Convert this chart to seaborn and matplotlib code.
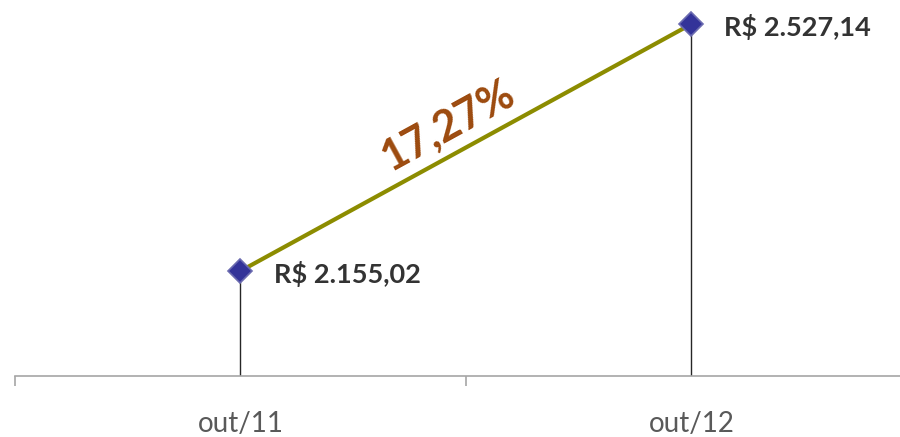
import numpy as np
import pandas as pd
import matplotlib
matplotlib.use("Agg")
import matplotlib.pyplot as plt
import seaborn as sns

months = ["out/11", "out/12"]
values = [2155.02, 2527.14]
value_labels = ["R$ 2.155,02", "R$ 2.527,14"]
growth_label = "17,27%"

sns.set_style("white")
plt.rcParams["font.family"] = ["Lato", "DejaVu Sans"]

df = pd.DataFrame({"mes": np.arange(len(months)), "valor": values})

fig = plt.figure(figsize=(9, 4.37), dpi=100)
ax = fig.add_axes([15 / 900, 61 / 437, 902 / 900, 376 / 437])

# drop lines from each point to the axis
ymin, ymax = 1996.8, 2563.3
ax.vlines(df["mes"], ymin, df["valor"], color="#262626", lw=1.0, zorder=1)

sns.lineplot(data=df, x="mes", y="valor", ax=ax, color="#8c8c00", lw=3.0,
             marker="D", markersize=12, markerfacecolor="#333399",
             markeredgecolor="#6b6bb0", markeredgewidth=1.2, zorder=3)

for x, y, lab in zip(df["mes"], df["valor"], value_labels):
    ax.annotate(lab, (x, y), xytext=(33, -3), textcoords="offset pixels",
                ha="left", va="center", fontsize=19.5, fontweight="bold",
                color="#333333")

# growth label along the line
mx = df["mes"].mean()
my = np.mean(values)
ax.annotate(growth_label, (mx, my), xytext=(-18, 22), textcoords="offset pixels",
            ha="center", va="center", fontsize=31, fontweight="bold",
            color="#9c4a0e", rotation=28.7, rotation_mode="anchor")

ax.set_xlim(-0.5, 1.5)
ax.set_ylim(ymin, ymax)
sns.despine(ax=ax, left=True, top=True, right=True)
ax.spines["bottom"].set_color("#a6a6a6")
ax.spines["bottom"].set_linewidth(1.2)
ax.set_yticks([])
ax.set_xticks([0, 1])
ax.set_xticklabels(months, fontsize=20, color="#595959")
ax.tick_params(axis="x", which="major", bottom=True, length=0, pad=25)
ax.set_xticks([-0.5, 0.5, 1.5], minor=True)
ax.tick_params(axis="x", which="minor", bottom=True, length=7,
               color="#a6a6a6", width=1.2)
ax.set_xlabel("")
ax.set_ylabel("")

fig.savefig("out.png", dpi=100)
